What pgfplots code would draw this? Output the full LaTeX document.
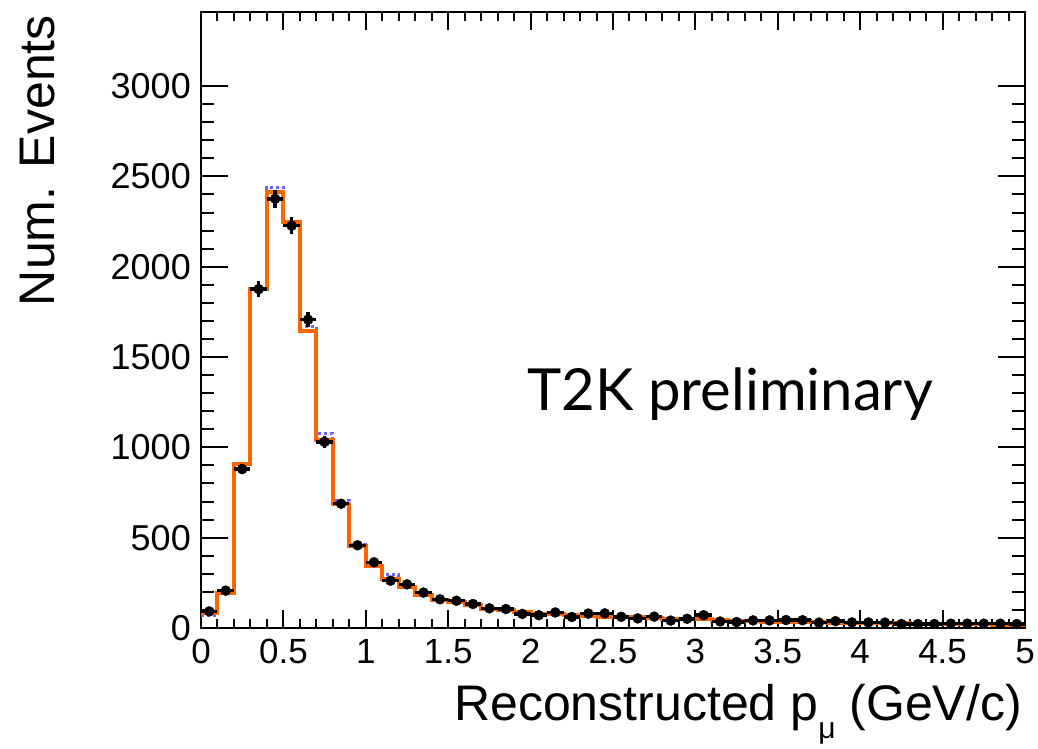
\documentclass[border=0pt]{standalone}
\usepackage{pgfplots}
\pgfplotsset{compat=1.18}
\usepackage{pgfplotstable}
\usepackage{fontspec}
\setmainfont{Liberation Sans}
\newfontfamily\gill{Lato}
\definecolor{rootorange}{RGB}{255,102,0}
\definecolor{rootblue}{RGB}{110,100,255}

% histogram: left bin edges, MC (orange) and alternative MC (blue dotted)
\pgfplotstableread{
x    mc    alt
0.0  83    68
0.1  194   194
0.2  908   908
0.3  1876  1880
0.4  2411  2441
0.5  2247  2252
0.6  1642  1668
0.7  1038  1078
0.8  684   706
0.9  456   462
1.0  344   346
1.1  272   294
1.2  225   226
1.3  183   184
1.4  155   156
1.5  146   146
1.6  127   128
1.7  107   108
1.8  100   100
1.9  88    88
2.0  80    80
2.1  76    76
2.2  72    72
2.3  68    68
2.4  63    63
2.5  62    62
2.6  59    59
2.7  57    57
2.8  50    50
2.9  48    48
3.0  48    48
3.1  44    44
3.2  41    41
3.3  38    38
3.4  35    35
3.5  34    34
3.6  33    33
3.7  31    31
3.8  30    30
3.9  28    28
4.0  27    27
4.1  26    26
4.2  25    25
4.3  24    24
4.4  23    23
4.5  22    22
4.6  21    21
4.7  20    20
4.8  19    19
4.9  19    19
5.0  19    19
}\mctable

% data points: bin centre, counts, x half width, statistical error
\pgfplotstableread{
x     y     ex    ey
0.05  92    0.05  9.6
0.15  207   0.05  14.4
0.25  880   0.05  29.7
0.35  1876  0.05  43.3
0.45  2376  0.05  48.7
0.55  2227  0.05  47.2
0.65  1707  0.05  41.3
0.75  1030  0.05  32.1
0.85  688   0.05  26.2
0.95  458   0.05  21.4
1.05  364   0.05  19.1
1.15  262   0.05  16.2
1.25  242   0.05  15.6
1.35  196   0.05  14.0
1.45  159   0.05  12.6
1.55  151   0.05  12.3
1.65  133   0.05  11.5
1.75  109   0.05  10.4
1.85  105   0.05  10.2
1.95  78    0.05  8.8
2.05  71    0.05  8.4
2.15  86    0.05  9.3
2.25  61    0.05  7.8
2.35  80    0.05  8.9
2.45  81    0.05  9.0
2.55  62    0.05  7.9
2.65  53    0.05  7.3
2.75  63    0.05  7.9
2.85  41    0.05  6.4
2.95  51    0.05  7.1
3.05  71    0.05  8.4
3.15  36    0.05  6.0
3.25  33    0.05  5.7
3.35  42    0.05  6.5
3.45  42    0.05  6.5
3.55  44    0.05  6.6
3.65  43    0.05  6.6
3.75  30    0.05  5.5
3.85  38    0.05  6.2
3.95  31    0.05  5.6
4.05  31    0.05  5.6
4.15  30    0.05  5.5
4.25  22    0.05  4.7
4.35  22    0.05  4.7
4.45  22    0.05  4.7
4.55  24    0.05  4.9
4.65  24    0.05  4.9
4.75  24    0.05  4.9
4.85  24    0.05  4.9
4.95  22    0.05  4.7
}\datatable

\begin{document}
\begin{tikzpicture}
\path[use as bounding box] (-201pt,-120pt) rectangle (837pt,628pt);
\begin{axis}[
  at={(0,0)}, anchor=south west,
  scale only axis,
  width=824pt, height=616pt,
  xmin=0, xmax=5, ymin=0, ymax=3410,
  axis line style={line width=2.5pt, black},
  tick align=inside,
  xtick pos=both, ytick pos=both,
  xticklabel pos=lower, yticklabel pos=left,
  xtick={0,0.5,...,5},
  ytick={0,500,...,3000},
  minor x tick num=4,
  minor y tick num=4,
  xtick style={line width=2pt, black, /pgfplots/major tick length=18pt, /pgfplots/minor tick length=9pt},
  ytick style={line width=2pt, black, /pgfplots/major tick length=27pt, /pgfplots/minor tick length=13pt},
  /pgf/number format/assume math mode=true,
  xticklabel style={font=\fontsize{35}{38}\selectfont, anchor=base, yshift=-35pt, inner sep=0pt},
  yticklabel style={font=\fontsize{36}{38}\selectfont, anchor=east, xshift=-10pt, inner sep=0pt},
  scaled y ticks=false,
  xticklabels={0,0.5,1,1.5,2,2.5,3,3.5,4,4.5,5},
  yticklabels={0,500,1000,1500,2000,2500,3000},
  clip=true,
]
\addplot[const plot mark left, rootblue, line width=3pt, dash pattern=on 3pt off 3pt] table[x=x, y=alt] {\mctable};
\addplot[const plot mark left, rootorange, line width=4pt] table[x=x, y=mc] {\mctable};
\addplot[only marks, mark=*, mark size=5pt, black,
  error bars/.cd, x dir=both, x explicit, y dir=both, y explicit,
  error mark=none, error bar style={line width=3.5pt, black}]
  table[x=x, y=y, x error=ex, y error=ey] {\datatable};
\end{axis}
\node[anchor=base west, inner sep=0pt] at (326pt,218pt) {\gill\fontsize{58}{62}\selectfont T2K preliminary};
\node[anchor=base east, inner sep=0pt] at (821pt,-92pt) {\fontsize{50}{54}\selectfont Reconstructed p\raisebox{-18pt}{\fontsize{30}{32}\selectfont μ} (GeV/c)};
\node[anchor=base east, rotate=90, inner sep=0pt] at (-146pt,613pt) {\fontsize{50}{54}\selectfont Num. Events};
\end{tikzpicture}
\end{document}
